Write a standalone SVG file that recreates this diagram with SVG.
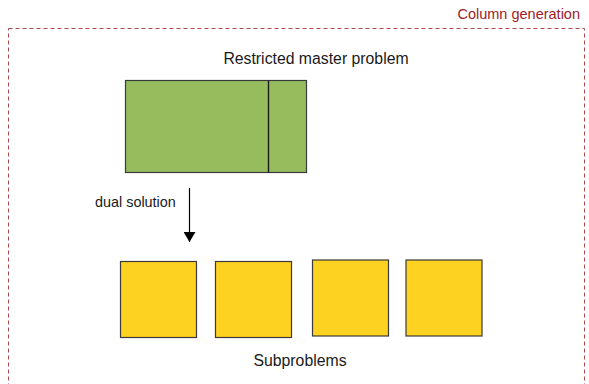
<svg xmlns="http://www.w3.org/2000/svg" width="589" height="384" viewBox="0 0 589 384">
  <defs>
    <marker id="arrowhead" viewBox="0 0 10 12" refX="10" refY="6" markerWidth="10" markerHeight="12" markerUnits="userSpaceOnUse" orient="auto">
      <path d="M0,0 L10,6 L0,12 Z" fill="#000"/>
    </marker>
  </defs>
  <style>
    text { font-family: "Liberation Sans", Arial, sans-serif; fill: #1a1a1a; }
    .frame { fill: none; stroke: #b0484a; stroke-width: 1; stroke-dasharray: 4 3; }
    .title { font-size: 14.5px; fill: #a02028; text-anchor: end; }
    .label { font-size: 15.8px; text-anchor: middle; }
    .edge-label { font-size: 14.4px; }
    .master { fill: #96bc5e; stroke: #3a3a3a; stroke-width: 1.2; }
    .sub { fill: #fed221; stroke: #3a3a3a; stroke-width: 1.2; }
    .conn { stroke: #000; stroke-width: 1.2; fill: none; }
  </style>

  <!-- Column generation frame -->
  <g id="frame">
    <rect class="frame" x="8.5" y="28.5" width="576" height="370"/>
    <text class="title" x="580" y="19">Column generation</text>
  </g>

  <!-- Restricted master problem -->
  <g id="master">
    <text class="label" x="316" y="64">Restricted master problem</text>
    <rect class="master" x="125.5" y="80.5" width="181" height="92"/>
    <line x1="268.5" y1="80.5" x2="268.5" y2="172.5" stroke="#1a1a1a" stroke-width="1.4"/>
  </g>

  <!-- Subproblems -->
  <g id="sub1"><rect class="sub" x="120.5" y="261.5" width="76" height="76"/></g>
  <g id="sub2"><rect class="sub" x="215.5" y="261.5" width="76" height="76"/></g>
  <g id="sub3"><rect class="sub" x="312.5" y="260" width="76" height="76"/></g>
  <g id="sub4"><rect class="sub" x="406" y="260" width="76" height="76"/></g>
  <g id="sub-label">
    <text class="label" x="300" y="366">Subproblems</text>
  </g>

  <!-- Connectors -->
  <g id="connectors">
    <line class="conn" x1="189.5" y1="188" x2="189.5" y2="242" marker-end="url(#arrowhead)"/>
    <text class="edge-label" x="95" y="207">dual solution</text>
  </g>
</svg>
